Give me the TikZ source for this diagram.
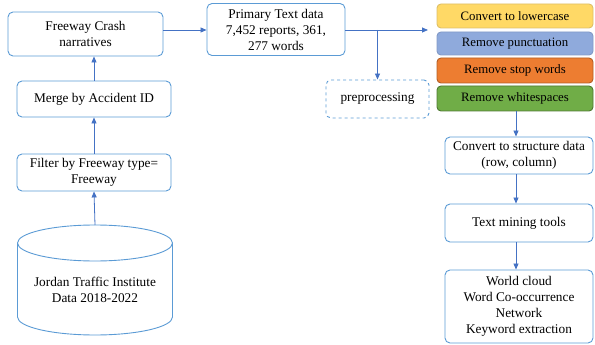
\documentclass[tikz,border=0pt]{standalone}
\usepackage{fontspec}
\setmainfont{Liberation Serif}
\usetikzlibrary{arrows.meta}
\definecolor{bordblue}{HTML}{5B9BD5}
\definecolor{arrblue}{HTML}{4472C4}
\definecolor{cyel}{HTML}{FFD966}
\definecolor{cblu}{HTML}{8FAADC}
\definecolor{cora}{HTML}{ED7D31}
\definecolor{cgre}{HTML}{70AD47}
\tikzset{
  box/.style={draw=bordblue,line width=0.9pt,rounded corners=5pt,align=center,inner sep=0pt,font=\rmfamily\fontsize{13.3}{16}\selectfont},
  cbox/.style={rounded corners=4pt,line width=0.9pt,align=center,inner sep=0pt,font=\rmfamily\fontsize{12.8}{15}\selectfont},
  arr/.style={draw=arrblue,line width=0.8pt,-{Triangle[length=6pt,width=5pt]}},
}
\begin{document}
\begin{tikzpicture}[x=1pt,y=-1pt]
\useasboundingbox (0,0) rectangle (595,345);
% left column
\node[box,minimum width=155,minimum height=44] (fcn) at (85.5,34) {Freeway Crash\\narratives};
\node[box,minimum width=154,minimum height=36] (merge) at (94,99) {Merge by Accident ID};
\node[box,minimum width=154,minimum height=37] (filter) at (94,172.5) {Filter by Freeway type=\\Freeway};
% cylinder
\draw[draw=bordblue,line width=0.9pt,fill=white] (17.5,243) -- (17.5,317) arc[start angle=180,end angle=0,x radius=77.5,y radius=18] -- (172.5,243);
\draw[draw=bordblue,line width=0.9pt] (95,243) ellipse[x radius=77.5,y radius=18];
\coordinate (cyltop) at (95,225);
\node[align=center,font=\rmfamily\fontsize{13.3}{16}\selectfont] (jti) at (95,290) {Jordan Traffic Institute\\Data 2018-2022};
% primary
\node[box,minimum width=138,minimum height=52] (prim) at (276,29.5) {Primary Text data\\7,452 reports, 361,\\277 words};
\node[box,dashed,minimum width=103,minimum height=38] (pre) at (377.5,99) {preprocessing};
\coordinate (tip) at (428,30);
% colored
\node[cbox,fill=cyel,draw=cyel!85!black!90,minimum width=156,minimum height=24] (c1) at (515,16) {Convert to lowercase};
\node[cbox,fill=cblu,draw=cblu!90!black,minimum width=156,minimum height=23] (c2) at (515,43.5) {Remove punctuation};
\node[cbox,fill=cora,draw=cora!75!black,minimum width=156,minimum height=25] (c3) at (515,70.5) {Remove stop words};
\node[cbox,fill=cgre,draw=cgre!70!black,minimum width=156,minimum height=25] (c4) at (515,98.5) {Remove whitespaces};
% right column
\node[box,minimum width=148,minimum height=37] (struct) at (519,155.5) {Convert to structure data\\(row, column)};
\node[box,minimum width=148,minimum height=38] (tm) at (519,223) {Text mining tools};
\node[box,minimum width=148,minimum height=73] (wc) at (519,306.5) {World cloud\\Word Co-occurrence\\Network\\Keyword extraction};
% arrows
\draw[arr] (cyltop) -- (filter.south);
\draw[arr] (filter.north) -- (merge.south);
\draw[arr] (merge.north) -- (merge.north |- fcn.south);
\draw[arr] (fcn.east |- 0,30) -- (prim.west |- 0,30);
\draw[arr] (prim.east |- 0,30) -- (tip);
\draw[arr] (pre.north |- 0,30) -- (pre.north);
\draw[arr] (c4.south -| 516,0) -- (struct.north -| 516,0);
\draw[arr] (struct.south -| 516,0) -- (tm.north -| 516,0);
\draw[arr] (tm.south -| 516,0) -- (wc.north -| 516,0);
\end{tikzpicture}
\end{document}
